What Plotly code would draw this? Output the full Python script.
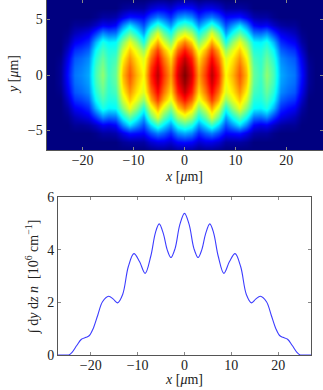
import plotly.graph_objects as go

# Density map, one quadrant (the picture is mirror symmetric)
map_x = [0, 1.35, 2.7, 4.05, 5.4, 6.75, 8.1, 9.45, 10.8, 12.15, 13.5, 14.85, 16.2, 17.55, 18.9, 20.25, 21.6, 22.95, 24.3, 25.65, 27]
map_y = [0, 0.75, 1.5, 2.25, 3, 3.75, 4.5, 5.25, 6, 6.75]
map_rows = [
    [1.0, .92, .74, .84, .95, .85, .65, .72, .81, .71, .47, .42, .52, .43, .27, .24, .22, .12, .02, 0, 0],
    [.98, .90, .72, .82, .93, .83, .63, .70, .79, .69, .46, .41, .50, .42, .26, .23, .21, .11, .02, 0, 0],
    [.94, .86, .68, .78, .89, .78, .61, .67, .75, .65, .43, .40, .47, .39, .24, .21, .19, .09, .01, 0, 0],
    [.87, .79, .62, .72, .83, .72, .52, .62, .70, .59, .39, .38, .43, .35, .20, .17, .15, .06, 0, 0, 0],
    [.77, .69, .50, .61, .73, .61, .38, .52, .63, .50, .35, .34, .38, .28, .15, .12, .10, .03, 0, 0, 0],
    [.61, .54, .37, .47, .61, .47, .26, .37, .46, .36, .22, .21, .24, .16, .09, .07, .05, .01, 0, 0, 0],
    [.43, .38, .25, .33, .41, .31, .18, .25, .32, .23, .11, .09, .10, .06, .03, .02, .02, 0, 0, 0, 0],
    [.27, .24, .15, .20, .23, .18, .11, .12, .13, .09, .04, .03, .03, .01, 0, 0, 0, 0, 0, 0, 0],
    [.12, .11, .07, .09, .09, .07, .03, .03, .03, .02, 0, 0, 0, 0, 0, 0, 0, 0, 0, 0, 0],
    [.03, .03, .01, .02, .02, .01, 0, 0, 0, 0, 0, 0, 0, 0, 0, 0, 0, 0, 0, 0, 0],
]

# Integrated profile
line_x = [-27, -25.5, -24.7, -24, -23, -22, -21, -20.3, -19.5, -18.5, -17.5, -16.2, -15.2, -14.3, -13.2, -12, -10.8, -9.6, -8.4, -7.2, -6.2, -5.4, -4.5, -3.7, -2.9, -2, -1, 0,
          1, 2, 2.9, 3.7, 4.5, 5.4, 6.2, 7.2, 8.4, 9.6, 10.8, 12, 13.2, 14.3, 15.2, 16.2, 17.5, 18.5, 19.5, 20.3, 21, 22, 23, 24, 24.7, 25.5, 27]
line_y = [0, 0, 0, 0.1, 0.36, 0.6, 0.67, 0.74, 1.0, 1.52, 2.02, 2.23, 2.12, 1.98, 2.3, 3.35, 3.85, 3.55, 3.1, 3.75, 4.65, 4.98, 4.6, 4.0, 3.7, 4.05, 4.95, 5.38,
          4.95, 4.05, 3.7, 4.0, 4.6, 4.98, 4.65, 3.75, 3.1, 3.55, 3.85, 3.35, 2.3, 1.98, 2.12, 2.23, 2.02, 1.52, 1.0, 0.74, 0.67, 0.6, 0.36, 0.1, 0, 0, 0]

x_ticks = [-20, -10, 0, 10, 20]
x_labels = ["−20", "−10", "0", "10", "20"]
top_y_ticks = [-5, 0, 5]
top_y_labels = ["−5", "0", "5"]
bot_y_ticks = [0, 2, 4, 6]
x_title = "<i>x</i> [<i>μ</i>m]"
y_title_top = "<i>y</i> [<i>μ</i>m]"
y_title_bottom = "∫ d<i>y</i> d<i>z</i> <i>n</i>  [10<sup>6</sup> cm<sup>−1</sup>]"

jet = [[0, "rgb(0,0,128)"], [0.11, "rgb(0,0,255)"], [0.35, "rgb(0,255,255)"], [0.5, "rgb(128,255,128)"],
       [0.65, "rgb(255,255,0)"], [0.89, "rgb(255,0,0)"], [1, "rgb(128,0,0)"]]

full_x = [-v for v in map_x[:0:-1]] + map_x
full_rows = [r[:0:-1] + r for r in map_rows]
full_y = [-v for v in map_y[:0:-1]] + map_y
full_z = full_rows[:0:-1] + full_rows

FONT = "Liberation Serif"
TS = 14
W, H = 323, 390
fig = go.Figure()
fig.add_trace(go.Heatmap(x=full_x, y=full_y, z=full_z, colorscale=jet, zmin=0, zmax=1,
                         zsmooth="best", showscale=False, xaxis="x", yaxis="y", hoverinfo="skip"))
fig.add_trace(go.Scatter(x=line_x, y=line_y, mode="lines", xaxis="x2", yaxis="y2",
                         line=dict(color="#3c3cff", width=1.1, shape="spline", smoothing=1.0), hoverinfo="skip"))

ax = dict(showgrid=False, zeroline=False, showline=True, linecolor="#555555", linewidth=1, mirror="allticks",
          ticks="inside", ticklen=3, tickwidth=0.6, tickcolor="#888888", automargin=False,
          tickfont=dict(family=FONT, size=TS, color="#222222"))


def note(text, x, y, angle=0):
    fig.add_annotation(text=text, x=x / W, y=1 - y / H, xref="paper", yref="paper", showarrow=False,
                       textangle=angle, xanchor="center", yanchor="middle",
                       font=dict(family=FONT, size=TS, color="#222222"))


fig.update_layout(
    width=W, height=H, autosize=False, margin=dict(l=0, r=0, t=0, b=0, autoexpand=False), showlegend=False,
    paper_bgcolor="white", plot_bgcolor="white", font=dict(family=FONT, color="#222222"),
    xaxis=dict(ax, domain=[46.5 / W, 1], range=[-27.1, 27.2], tickvals=x_ticks, ticktext=x_labels, anchor="y", ticklabelstandoff=-3),
    yaxis=dict(ax, domain=[1 - 150 / H, 1], range=[-6.75, 6.75], tickvals=top_y_ticks, ticktext=top_y_labels, anchor="x"),
    xaxis2=dict(ax, domain=[58 / W, 311 / W], range=[-27, 27], tickvals=x_ticks, ticktext=x_labels, anchor="y2", ticklabelstandoff=-3),
    yaxis2=dict(ax, domain=[(H - 355) / H, (H - 197) / H], range=[0, 6], tickvals=bot_y_ticks, anchor="x2"),
)
note(x_title, 184, 177)
note(y_title_top, 13, 75, -90)
note(x_title, 184, 379)
note(y_title_bottom, 32, 277, -90)
fig.write_html("out.html", config={"displayModeBar": False}, post_script="document.body.style.margin='0';")
